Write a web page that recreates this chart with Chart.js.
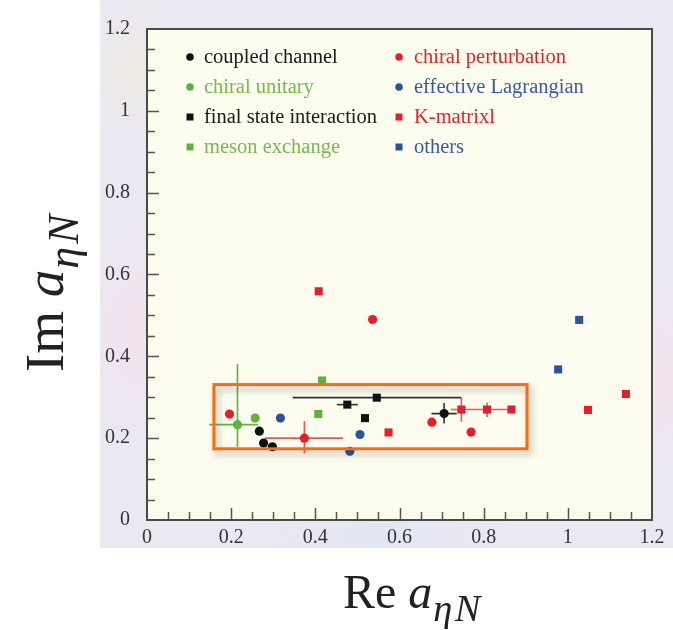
<!DOCTYPE html>
<html lang="en">
<head>
    <meta charset="UTF-8">
    <title>eta N scattering length</title>
    <style>
        body { margin: 0; background: #fff; }
    </style>
</head>
<body>
<div>
    <canvas id="myChart" width="673" height="630"></canvas>
</div>

<script src="https://cdn.jsdelivr.net/npm/chart.js"></script>

<script>
    // 데이터 (Re a, Im a), 에러바 [xlo, xhi, ylo, yhi]
    const coupledX = [0.267, 0.277, 0.298, 0.706];
    const coupledY = [0.217, 0.188, 0.179, 0.260];
    const coupledErr = [null, null, null, [0.676, 0.736, 0.236, 0.286]];

    const unitaryX = [0.215, 0.257];
    const unitaryY = [0.233, 0.249];
    const unitaryErr = [[0.148, 0.264, 0.179, 0.381], null];

    const fsiX = [0.476, 0.546, 0.518];
    const fsiY = [0.282, 0.299, 0.249];
    const fsiErr = [[0.451, 0.501, null, null], [0.346, 0.746, null, null], null];

    const mesonX = [0.416, 0.407];
    const mesonY = [0.341, 0.259];

    const chptX = [0.196, 0.536, 0.374, 0.677, 0.770];
    const chptY = [0.259, 0.490, 0.200, 0.239, 0.215];
    const chptErr = [null, null, [0.280, 0.466, 0.163, 0.242], null, null];

    const lagrX = [0.317, 0.506, 0.482];
    const lagrY = [0.249, 0.209, 0.168];

    const kmatX = [0.408, 0.574, 0.747, 0.808, 0.866, 1.048, 1.138];
    const kmatY = [0.559, 0.214, 0.270, 0.270, 0.270, 0.269, 0.308];
    const kmatErr = [null, null, [0.722, 0.778, 0.240, 0.300], [0.778, 0.866, 0.252, 0.287], null, null, null];

    const othersX = [0.977, 1.027];
    const othersY = [0.368, 0.489];

    const axisTicks = [0, 0.2, 0.4, 0.6, 0.8, 1, 1.2];
    const highlightBox = [0.159, 0.903, 0.174, 0.331]; // xMin, xMax, yMin, yMax

    const RED = '#e3202a', GREEN = '#5fb43c', BLUE = '#2a52a3', BLACK = '#111111';
    const SERIF = "'Liberation Serif', 'DejaVu Serif', serif";

    function pts(xs, ys) {
        return xs.map((x, i) => ({ x: x, y: ys[i] }));
    }

    function series(label, xs, ys, errs, color, textColor, style) {
        return {
            label: label,
            data: pts(xs, ys),
            errs: errs || [],
            textColor: textColor,
            backgroundColor: color,
            borderWidth: 0,
            pointStyle: style,
            pointRadius: style === 'rect' ? 5.7 : 4.6,
            pointHoverRadius: style === 'rect' ? 5.7 : 4.6
        };
    }

    const datasets = [
        series('coupled channel', coupledX, coupledY, coupledErr, BLACK, '#1a1a1a', 'circle'),
        series('chiral unitary', unitaryX, unitaryY, unitaryErr, GREEN, '#77ba4f', 'circle'),
        series('final state interaction', fsiX, fsiY, fsiErr, BLACK, '#1a1a1a', 'rect'),
        series('meson exchange', mesonX, mesonY, null, GREEN, '#77ba4f', 'rect'),
        series('chiral perturbation', chptX, chptY, chptErr, RED, '#e2252b', 'circle'),
        series('effective Lagrangian', lagrX, lagrY, null, BLUE, '#3b5aa6', 'circle'),
        series('K-matrixl', kmatX, kmatY, kmatErr, RED, '#e2252b', 'rect'),
        series('others', othersX, othersY, null, BLUE, '#3b5aa6', 'rect')
    ];

    // 배경, 에러바, 프레임, 범례, 축 제목
    const decor = {
        id: 'decor',
        beforeDraw(chart) {
            const ctx = chart.ctx;
            const a = chart.chartArea;
            ctx.save();
            ctx.fillStyle = '#ffffff';
            ctx.fillRect(0, 0, chart.width, chart.height);
            // 연한 배경 이미지 흉내
            ctx.fillStyle = '#ebe8f2';
            ctx.fillRect(100, 0, chart.width - 100, 548);
            const blobs = [
                [170, 330, 140, 'rgba(248,222,234,0.9)'],
                [630, 380, 120, 'rgba(250,220,232,0.9)'],
                [600, 120, 130, 'rgba(236,228,246,0.9)'],
                [380, 560, 170, 'rgba(222,230,244,0.9)'],
                [140, 70, 90, 'rgba(240,236,222,0.8)']
            ];
            blobs.forEach(b => {
                const g = ctx.createRadialGradient(b[0], b[1], 0, b[0], b[1], b[2]);
                g.addColorStop(0, b[3]);
                g.addColorStop(1, 'rgba(235,232,242,0)');
                ctx.fillStyle = g;
                ctx.fillRect(100, 0, chart.width - 100, 548);
            });
            ctx.fillStyle = '#fcfcef';
            ctx.fillRect(a.left, a.top, a.right - a.left, a.bottom - a.top);
            ctx.restore();
        },
        beforeDatasetsDraw(chart) {
            const ctx = chart.ctx;
            const xs = chart.scales.x, ys = chart.scales.y;
            ctx.save();
            ctx.lineWidth = 1.6;
            chart.data.datasets.forEach(ds => {
                ds.errs.forEach((e, i) => {
                    if (!e) return;
                    const p = ds.data[i];
                    ctx.strokeStyle = ds.backgroundColor === RED ? 'rgba(227,32,42,0.75)' : ds.backgroundColor;
                    if (ds.backgroundColor === BLACK) ctx.strokeStyle = '#333';
                    ctx.beginPath();
                    if (e[0] !== null) {
                        ctx.moveTo(xs.getPixelForValue(e[0]), ys.getPixelForValue(p.y));
                        ctx.lineTo(xs.getPixelForValue(e[1]), ys.getPixelForValue(p.y));
                    }
                    if (e[2] !== null) {
                        ctx.moveTo(xs.getPixelForValue(p.x), ys.getPixelForValue(e[2]));
                        ctx.lineTo(xs.getPixelForValue(p.x), ys.getPixelForValue(e[3]));
                    }
                    ctx.stroke();
                });
            });
            ctx.restore();
        },
        afterDatasetsDraw(chart) {
            const ctx = chart.ctx;
            const a = chart.chartArea;
            const xs = chart.scales.x, ys = chart.scales.y;
            ctx.save();

            // 눈금 (안쪽)
            ctx.strokeStyle = '#555';
            ctx.lineWidth = 1.5;
            ctx.beginPath();
            for (let k = 1; k < 24; k++) {
                const v = k * 0.05;
                const len = k % 4 === 0 ? 12 : 8;
                const px = Math.round(xs.getPixelForValue(v)) + 0.5;
                ctx.moveTo(px, a.bottom);
                ctx.lineTo(px, a.bottom - len);
                const py = Math.round(ys.getPixelForValue(v)) + 0.5;
                ctx.moveTo(a.left, py);
                ctx.lineTo(a.left + len, py);
            }
            ctx.stroke();

            // 프레임
            ctx.strokeStyle = '#4a4a4a';
            ctx.lineWidth = 2;
            ctx.strokeRect(a.left, a.top, a.right - a.left, a.bottom - a.top);

            // 강조 박스
            const bx0 = xs.getPixelForValue(highlightBox[0]);
            const bx1 = xs.getPixelForValue(highlightBox[1]);
            const by0 = ys.getPixelForValue(highlightBox[3]);
            const by1 = ys.getPixelForValue(highlightBox[2]);
            ctx.save();
            ctx.shadowColor = 'rgba(0,0,0,0.3)';
            ctx.shadowBlur = 7;
            ctx.shadowOffsetX = 3;
            ctx.shadowOffsetY = 4;
            ctx.strokeStyle = '#ff6a10';
            ctx.lineWidth = 3;
            ctx.strokeRect(bx0, by0, bx1 - bx0, by1 - by0);
            ctx.restore();

            // 범례 (2열)
            ctx.font = '20.5px ' + SERIF;
            ctx.textBaseline = 'middle';
            ctx.textAlign = 'left';
            chart.data.datasets.forEach((ds, i) => {
                const col = Math.floor(i / 4), row = i % 4;
                const mx = col === 0 ? 190 : 399;
                const tx = col === 0 ? 204 : 414;
                const my = 57 + row * 30;
                ctx.fillStyle = ds.backgroundColor;
                if (ds.pointStyle === 'rect') {
                    ctx.fillRect(mx - 3.5, my - 3.5, 7, 7);
                } else {
                    ctx.beginPath();
                    ctx.arc(mx, my, 3.8, 0, Math.PI * 2);
                    ctx.fill();
                }
                ctx.fillStyle = ds.textColor;
                ctx.fillText(ds.label, tx, my + 1);
            });

            // 축 제목
            ctx.fillStyle = '#222';
            ctx.textBaseline = 'alphabetic';
            const drawTitle = (prefix, size) => {
                const sub = size * 0.8;
                ctx.font = size + 'px ' + SERIF;
                ctx.fillText(prefix + ' ', 0, 0);
                let w = ctx.measureText(prefix + ' ').width;
                ctx.font = 'italic ' + size + 'px ' + SERIF;
                ctx.fillText('a', w, 0);
                w += ctx.measureText('a').width + 1;
                ctx.font = 'italic ' + sub + 'px ' + SERIF;
                ctx.fillText('\u03b7', w, size * 0.28);
                w += ctx.measureText('\u03b7').width + size * 0.05;
                ctx.fillText('N', w, size * 0.28);
            };
            ctx.save();
            ctx.translate(343, 608);
            drawTitle('Re', 48);
            ctx.restore();
            ctx.save();
            ctx.translate(63, 372);
            ctx.rotate(-Math.PI / 2);
            drawTitle('Im', 55);
            ctx.restore();

            ctx.restore();
        }
    };

    const tickFont = { family: SERIF, size: 20 };
    const tickText = v => String(Math.round(v * 10) / 10);

    new Chart(document.getElementById('myChart'), {
        type: 'scatter',
        data: { datasets: datasets },
        options: {
            responsive: false,
            animation: false,
            layout: { padding: { top: 16, right: 21, left: 0, bottom: 0 } },
            scales: {
                x: {
                    type: 'linear',
                    min: 0,
                    max: 1.2,
                    afterBuildTicks: s => { s.ticks = axisTicks.map(v => ({ value: v })); },
                    afterFit: s => { s.height = 110; },
                    grid: { display: false, drawTicks: false },
                    border: { display: false },
                    ticks: { font: tickFont, color: '#333', padding: 6, callback: tickText }
                },
                y: {
                    type: 'linear',
                    min: 0,
                    max: 1.2,
                    afterBuildTicks: s => { s.ticks = axisTicks.map(v => ({ value: v })); },
                    afterFit: s => { s.width = 147; },
                    grid: { display: false, drawTicks: false },
                    border: { display: false },
                    ticks: { font: tickFont, color: '#333', padding: 17, callback: tickText }
                }
            },
            plugins: {
                legend: { display: false },
                tooltip: { enabled: false }
            }
        },
        plugins: [decor]
    });
</script>
</body>
</html>
